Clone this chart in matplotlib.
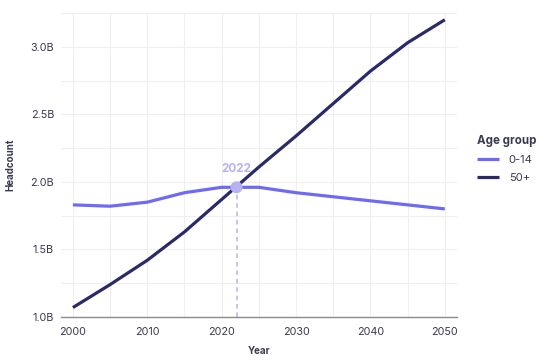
import matplotlib
matplotlib.use("Agg")
import matplotlib.pyplot as plt
from matplotlib.ticker import FuncFormatter, MultipleLocator

years = [2000, 2005, 2010, 2015, 2020, 2025, 2030, 2035, 2040, 2045, 2050]
age_0_14 = [1.83, 1.82, 1.85, 1.92, 1.96, 1.96, 1.92, 1.89, 1.86, 1.83, 1.80]
age_50p = [1.07, 1.24, 1.42, 1.63, 1.87, 2.11, 2.34, 2.58, 2.82, 3.03, 3.20]
highlight_year = 2022
highlight_value = 1.96
series_labels = ["0-14", "50+"]

plt.rcParams['font.family'] = ['Inter', 'DejaVu Sans']
text_col = "#3a3a50"
c_light = "#6f6af5"
c_dark = "#2b2a69"
c_mark = "#b6b3f0"

fig = plt.figure(figsize=(5.46, 3.6), dpi=100)
ax = fig.add_axes([0.1117, 0.1194, 0.7248, 0.8445])

ax.plot(years, age_0_14, color=c_light, lw=2.3, label=series_labels[0], zorder=3, solid_capstyle='butt')
ax.plot(years, age_50p, color=c_dark, lw=2.3, label=series_labels[1], zorder=3, solid_capstyle='butt')

ax.plot([highlight_year, highlight_year], [1.0, highlight_value], color=c_mark, lw=1.1,
        ls=(0, (3, 2.5)), zorder=2)
ax.scatter([highlight_year], [highlight_value], s=75, color=c_mark, zorder=5, edgecolors='none')
ax.annotate(str(highlight_year), (highlight_year, highlight_value), xytext=(0, 9),
            textcoords='offset points', ha='center', va='bottom', color=c_mark,
            fontsize=8.5, fontweight='bold')

ax.set_xlim(1998.4, 2051.6)
ax.set_ylim(1.0, 3.25)
ax.xaxis.set_major_locator(MultipleLocator(10))
ax.xaxis.set_minor_locator(MultipleLocator(5))
ax.yaxis.set_major_locator(MultipleLocator(0.5))
ax.yaxis.set_minor_locator(MultipleLocator(0.25))
ax.yaxis.set_major_formatter(FuncFormatter(lambda v, p: f"{v:.1f}B"))
ax.grid(True, which='both', color='#efeff2', lw=0.8, zorder=0)
ax.set_axisbelow(True)

for s in ['top', 'right', 'left']:
    ax.spines[s].set_visible(False)
ax.spines['bottom'].set_color('#8a8a8a')
ax.spines['bottom'].set_linewidth(1.0)

ax.tick_params(axis='both', which='both', length=0, labelsize=7.8, colors=text_col)
ax.tick_params(axis='x', pad=7)
ax.tick_params(axis='y', pad=5)

ax.set_xlabel("Year", fontsize=7, fontweight='bold', color=text_col, labelpad=7)
ax.set_ylabel("Headcount", fontsize=7, fontweight='bold', color=text_col, labelpad=11)

leg = ax.legend(title="Age group", loc='center left', bbox_to_anchor=(1.025, 0.52),
                frameon=False, fontsize=8, title_fontsize=8.3, handlelength=2.0,
                handletextpad=0.9, labelspacing=0.7, labelcolor=text_col)
leg.get_title().set_fontweight('bold')
leg.get_title().set_color(text_col)
leg._legend_box.align = "left"

fig.savefig("out.png", dpi=100, facecolor='white')
